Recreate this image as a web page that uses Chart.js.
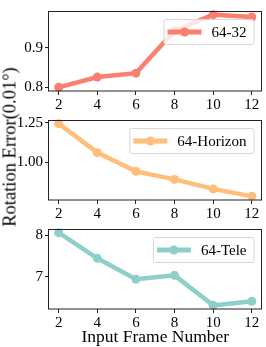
<!DOCTYPE html>
<html>
<head>
<meta charset="utf-8">
<script src="https://cdn.jsdelivr.net/npm/chart.js@4/dist/chart.umd.min.js"></script>
<style>
  html,body{margin:0;padding:0;background:#fff;}
  #wrap{position:relative;width:266px;height:347px;overflow:hidden;background:#fff;}
  canvas{position:absolute;left:0;}
  #ytitle{position:absolute;left:10px;top:147px;transform:translate(-50%,-50%) rotate(-90deg);
    font-family:"Liberation Serif","DejaVu Serif",serif;font-size:18.5px;white-space:nowrap;color:#000;}
</style>
</head>
<body>
<div id="wrap">
  <canvas id="c1" width="266" height="110" style="top:0px"></canvas>
  <canvas id="c2" width="266" height="110" style="top:109px"></canvas>
  <canvas id="c3" width="266" height="129" style="top:218px"></canvas>
  <div id="ytitle">Rotation Error(0.01°)</div>
</div>
<script>
// ---- data ----
const frames = [2, 4, 6, 8, 10, 12];
const xTicks = [2, 4, 6, 8, 10, 12];
const labels = ["64-32", "64-Horizon", "64-Tele"];
const err32 = [0.800, 0.826, 0.836, 0.943, 0.984, 0.978];
const errHorizon = [1.245, 1.062, 0.944, 0.893, 0.833, 0.786];
const errTele = [8.07, 7.445, 6.935, 7.03, 6.30, 6.40];
const yTicks32 = [0.8, 0.9];
const yTicksHorizon = [1.00, 1.25];
const yTicksTele = [7, 8];
const yTickLabels32 = ["0.8", "0.9"];
const yTickLabelsHorizon = ["1.00", "1.25"];
const yTickLabelsTele = ["7", "8"];
const xTitle = "Input Frame Number";
const colors = ["#FA7F6F", "#FFBE7A", "#8ECFC9"];

const FONT = "'Liberation Serif','DejaVu Serif',serif";

const framePlugin = {
  id: 'frame',
  afterDatasetsDraw(chart) {
    const {ctx, chartArea: a} = chart;
    ctx.save();
    ctx.strokeStyle = '#222';
    ctx.lineWidth = 1;
    ctx.strokeRect(a.left - 0.5, a.top + 0.5, a.right - a.left + 0.5, a.bottom - a.top - 0.5);
    ctx.restore();
    // legend
    const ds = chart.data.datasets[0];
    ctx.save();
    ctx.font = "15px " + FONT;
    const tw = ctx.measureText(ds.label).width;
    const h = 25, bw = 4 + 34 + 10 + tw + 7;
    const right = a.right - 8, top = a.top + 8, left = right - bw;
    ctx.beginPath();
    if (ctx.roundRect) ctx.roundRect(left + 0.5, top + 0.5, bw, h, 2); else ctx.rect(left + 0.5, top + 0.5, bw, h);
    ctx.fillStyle = 'rgba(255,255,255,0.8)';
    ctx.fill();
    ctx.strokeStyle = '#d6d6d6';
    ctx.lineWidth = 1;
    ctx.stroke();
    const cy = top + h / 2 + 0.5;
    ctx.strokeStyle = ds.borderColor;
    ctx.lineWidth = 5;
    ctx.beginPath();
    ctx.moveTo(left + 4, cy);
    ctx.lineTo(left + 38, cy);
    ctx.stroke();
    ctx.fillStyle = ds.borderColor;
    ctx.beginPath();
    ctx.arc(left + 21, cy, 4.5, 0, Math.PI * 2);
    ctx.fill();
    ctx.fillStyle = '#000';
    ctx.textBaseline = 'middle';
    ctx.textAlign = 'left';
    ctx.fillText(ds.label, left + 48, cy + 1);
    ctx.restore();
  }
};

function makeChart(id, label, values, color, yT, yTL, xAxisH, withTitle) {
  const mn = Math.min(...values), mx = Math.max(...values), r = mx - mn;
  return new Chart(document.getElementById(id), {
    type: 'line',
    data: {
      datasets: [{
        label: label,
        data: frames.map((f, i) => ({x: f, y: values[i]})),
        borderColor: color,
        backgroundColor: color,
        borderWidth: 4.5,
        pointRadius: 4.5,
        pointBorderWidth: 0,
        pointBackgroundColor: color,
        tension: 0,
        clip: 3
      }]
    },
    options: {
      responsive: false,
      animation: false,
      devicePixelRatio: 1,
      layout: {padding: {top: 0, right: 1, bottom: 0, left: 0}},
      plugins: {legend: {display: false}, tooltip: {enabled: false}},
      scales: {
        x: {
          type: 'linear', min: 1.5, max: 12.5,
          afterBuildTicks: s => { s.ticks = xTicks.map(v => ({value: v})); },
          afterFit: s => { s.height = xAxisH; },
          ticks: {font: {family: FONT, size: 15}, color: '#000', padding: 1, maxRotation: 0, autoSkip: false,
                  callback: v => String(v)},
          grid: {drawOnChartArea: false, drawTicks: true, tickLength: 4, color: '#222'},
          border: {display: false},
          title: {display: withTitle, text: xTitle, color: '#000',
                  font: {family: FONT, size: 17.5, lineHeight: 1.0}, padding: {top: 0, bottom: 1}}
        },
        y: {
          type: 'linear', min: mn - 0.05 * r, max: mx + 0.05 * r,
          afterBuildTicks: s => { s.ticks = yT.map(v => ({value: v})); },
          afterFit: s => { s.width = 49; },
          ticks: {font: {family: FONT, size: 15}, color: '#000', padding: 2, autoSkip: false,
                  callback: (v) => { const k = yT.findIndex(t => Math.abs(t - v) < 1e-9); return k >= 0 ? yTL[k] : ''; }},
          grid: {drawOnChartArea: false, drawTicks: true, tickLength: 4, color: '#222'},
          border: {display: false}
        }
      }
    },
    plugins: [framePlugin]
  });
}

makeChart('c1', labels[0], err32, colors[0], yTicks32, yTickLabels32, 19, false);
makeChart('c2', labels[1], errHorizon, colors[1], yTicksHorizon, yTickLabelsHorizon, 19, false);
makeChart('c3', labels[2], errTele, colors[2], yTicksTele, yTickLabelsTele, 38, true);
</script>
</body>
</html>
